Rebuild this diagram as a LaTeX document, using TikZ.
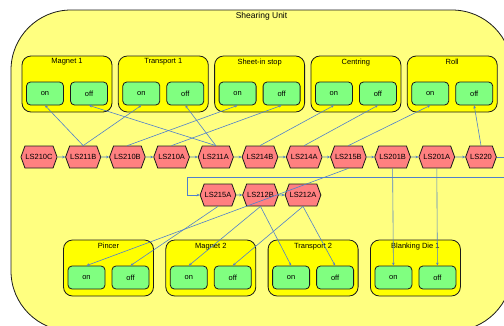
\documentclass[tikz,border=0pt]{standalone}
\usepackage{fontspec}
\setmainfont{Liberation Sans}
\usetikzlibrary{arrows.meta,positioning,shapes.symbols}
\definecolor{paleyellow}{HTML}{FFFF80}
\definecolor{grpyellow}{HTML}{FFFF00}
\definecolor{lsred}{HTML}{FF8080}
\definecolor{swgreen}{HTML}{80FF80}
\definecolor{wire}{HTML}{5080CC}
\definecolor{edge}{HTML}{1A1A1A}

\begin{document}
\begin{tikzpicture}[
  x=1pt,y=-1pt,
  font=\fontsize{7.5}{9}\selectfont,
  unit/.style={rounded corners=60pt,draw=edge,fill=paleyellow,line width=.8pt,minimum width=501pt,minimum height=321pt},
  grp/.style={rounded corners=9pt,draw=edge,fill=grpyellow,line width=.8pt,minimum width=90pt,minimum height=56pt},
  sw/.style={rounded corners=4pt,draw=edge,fill=swgreen,line width=.8pt,minimum width=37pt,minimum height=23pt,anchor=south},
  ls/.style={signal,signal to=east and west,signal pointer angle=140,draw=edge,fill=lsred,line width=.8pt,minimum height=22pt,inner xsep=0.5pt,inner ysep=1pt},
  arr/.style={-{Stealth[length=3pt,width=2.6pt]},line width=.6pt,draw=wire}
]
\useasboundingbox (0,0) rectangle (504,325);
\clip (0,0) rectangle (504,325);
\node[unit,label={[anchor=north,inner sep=3pt,font=\fontsize{8.5}{10}\selectfont]north:Shearing Unit}] (shear) at (261.5,170.5) {};
% upper groups
\node[grp,label={[anchor=north,inner sep=3pt]north:Magnet 1}] (mag1) at (67,84) {};
\node[grp,right=5.5pt of mag1,label={[anchor=north,inner sep=3pt]north:Transport 1}] (trans1) {};
\node[grp,right=5.5pt of trans1,label={[anchor=north,inner sep=3pt]north:Sheet-in stop}] (stop) {};
\node[grp,right=5.5pt of stop,label={[anchor=north,inner sep=3pt]north:Centring}] (centr) {};
\node[grp,right=5.5pt of centr,label={[anchor=north,inner sep=3pt]north:Roll}] (roll) {};
\node[sw] (mag1on) at ([xshift=-22pt,yshift=7pt]mag1.south) {on};
\node[sw] (mag1off) at ([xshift=22pt,yshift=7pt]mag1.south) {off};
\node[sw] (trans1on) at ([xshift=-22pt,yshift=7pt]trans1.south) {on};
\node[sw] (trans1off) at ([xshift=22pt,yshift=7pt]trans1.south) {off};
\node[sw] (stopon) at ([xshift=-22pt,yshift=7pt]stop.south) {on};
\node[sw] (stopoff) at ([xshift=22pt,yshift=7pt]stop.south) {off};
\node[sw] (centron) at ([xshift=-22pt,yshift=7pt]centr.south) {on};
\node[sw] (centroff) at ([xshift=22pt,yshift=7pt]centr.south) {off};
\node[sw] (rollon) at ([xshift=-22pt,yshift=7pt]roll.south) {on};
\node[sw] (rolloff) at ([xshift=22pt,yshift=7pt]roll.south) {off};
% lower groups
\node[grp,label={[anchor=north,inner sep=3pt]north:Pincer}] (pincer) at (108.5,268) {};
\node[grp,right=11.5pt of pincer,label={[anchor=north,inner sep=3pt]north:Magnet 2}] (mag2) {};
\node[grp,right=11.5pt of mag2,label={[anchor=north,inner sep=3pt]north:Transport 2}] (trans2) {};
\node[grp,right=11.5pt of trans2,label={[anchor=north,inner sep=3pt]north:Blanking Die 1}] (blank) {};
\node[sw] (pinceron) at ([xshift=-22pt,yshift=7pt]pincer.south) {on};
\node[sw] (pinceroff) at ([xshift=22pt,yshift=7pt]pincer.south) {off};
\node[sw] (mag2on) at ([xshift=-22pt,yshift=7pt]mag2.south) {on};
\node[sw] (mag2off) at ([xshift=22pt,yshift=7pt]mag2.south) {off};
\node[sw] (trans2on) at ([xshift=-22pt,yshift=7pt]trans2.south) {on};
\node[sw] (trans2off) at ([xshift=22pt,yshift=7pt]trans2.south) {off};
\node[sw] (blankon) at ([xshift=-22pt,yshift=7pt]blank.south) {on};
\node[sw] (blankoff) at ([xshift=22pt,yshift=7pt]blank.south) {off};
% limit switches
\node[ls] (ls210c) at (39,157) {LS210C};
\node[ls,on grid,right=44.2pt of ls210c] (ls211b) {LS211B};
\node[ls,on grid,right=44.2pt of ls211b] (ls210b) {LS210B};
\node[ls,on grid,right=44.2pt of ls210b] (ls210a) {LS210A};
\node[ls,on grid,right=44.2pt of ls210a] (ls211a) {LS211A};
\node[ls,on grid,right=44.2pt of ls211a] (ls214b) {LS214B};
\node[ls,on grid,right=44.2pt of ls214b] (ls214a) {LS214A};
\node[ls,on grid,right=44.2pt of ls214a] (ls215b) {LS215B};
\node[ls,on grid,right=44.2pt of ls215b] (ls201b) {LS201B};
\node[ls,on grid,right=44.2pt of ls201b] (ls201a) {LS201A};
\node[ls,on grid,right=44.2pt of ls201a] (ls220) {LS220};
\node[ls] (ls215a) at (218,195) {LS215A};
\node[ls,on grid,right=42.5pt of ls215a] (ls212b) {LS212B};
\node[ls,on grid,right=42.5pt of ls212b] (ls212a) {LS212A};
% sequence
\draw[arr] (ls210c) -- (ls211b);
\draw[arr] (ls211b) -- (ls210b);
\draw[arr] (ls210b) -- (ls210a);
\draw[arr] (ls210a) -- (ls211a);
\draw[arr] (ls211a) -- (ls214b);
\draw[arr] (ls214b) -- (ls214a);
\draw[arr] (ls214a) -- (ls215b);
\draw[arr] (ls215b) -- (ls201b);
\draw[arr] (ls201b) -- (ls201a);
\draw[arr] (ls201a) -- (ls220);
\coordinate (loopR) at ([xshift=14pt]ls220.east);
\coordinate (loopL) at (187,177);
\draw[arr] (ls220.east) -- (loopR) |- (loopL) |- (ls215a.west);
\draw[arr] (ls215a) -- (ls212b);
\draw[arr] (ls212b) -- (ls212a);
% upper actions
\draw[arr] (ls211b.north) -- (mag1on.south);
\draw[arr] (ls211b.north) -- (trans1on.south);
\draw[arr] (ls211a.north) -- (mag1off.south);
\draw[arr] (ls211a.north) -- (trans1off.south);
\draw[arr] (ls210b.north) -- (stopon.south);
\draw[arr] (ls210a.north) -- (stopoff.south);
\draw[arr] (ls214b.north) -- (centron.south);
\draw[arr] (ls214a.north) -- (centroff.south);
\draw[arr] (ls215b.north) -- (rollon.south);
\draw[arr] (ls220.north) -- (rolloff.south);
% lower actions
\draw[arr] (ls215b.south) -- (pinceron.north);
\draw[arr] (ls215a.south) -- (pinceroff.north);
\draw[arr] (ls212b.south) -- (mag2on.north);
\draw[arr] (ls212b.south) -- (trans2on.north);
\draw[arr] (ls212a.south) -- (mag2off.north);
\draw[arr] (ls212a.south) -- (trans2off.north);
\draw[arr] (ls201b.south) -- (blankon.north);
\draw[arr] (ls201a.south) -- (blankoff.north);
\end{tikzpicture}
\end{document}
